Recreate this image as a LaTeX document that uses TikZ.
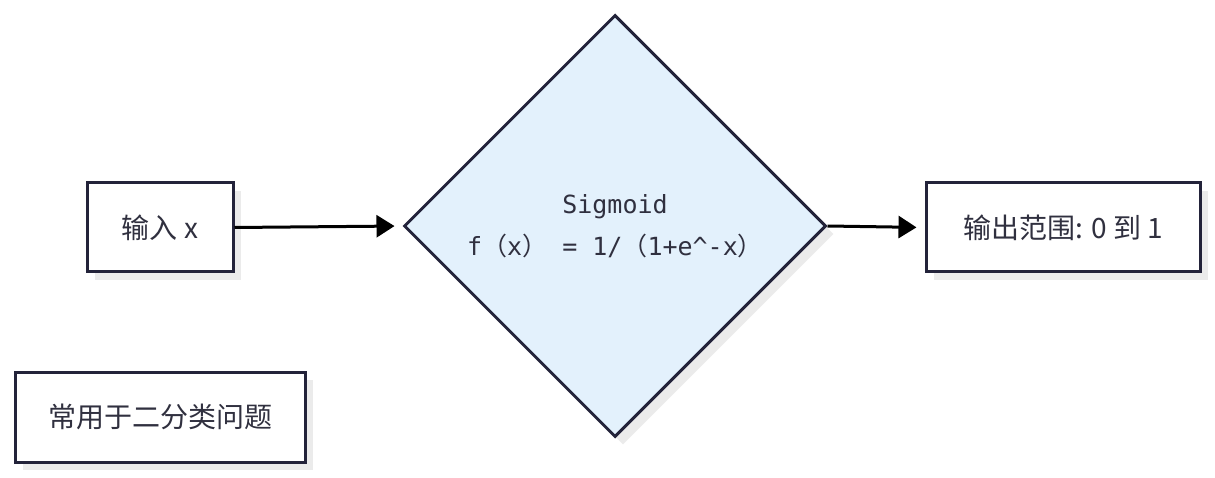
\documentclass[tikz,border=0pt]{standalone}
\usepackage{fontspec}
\setmainfont{Noto Sans CJK SC}
\newfontfamily\monofont{DejaVu Sans Mono}
\newfontfamily\cjkfont{Noto Sans CJK SC}
\usepackage{xcolor}
\usetikzlibrary{arrows.meta, positioning, shapes.geometric, shadows}
\definecolor{rahmen}{HTML}{23233A}
\definecolor{schrift}{HTML}{30303F}
\definecolor{hellblau}{HTML}{E3F1FC}
\definecolor{schatten}{HTML}{EBEBEB}
\tikzset{>=Latex}
\tikzset{
  kasten/.style={draw=rahmen, fill=white, text=schrift, inner sep=0pt,
    minimum height=89pt, font=\fontsize{28}{33}\selectfont,
    general shadow={fill=schatten, shadow xshift=8pt, shadow yshift=-8pt}},
  raute/.style={diamond, draw=rahmen, fill=hellblau, text=schrift, inner sep=0pt,
    minimum width=422pt, minimum height=422pt, align=center,
    font=\fontsize{25}{42}\selectfont\monofont,
    general shadow={fill=schatten, shadow xshift=8pt, shadow yshift=-8pt}},
  pfeil/.style={->, draw=black, shorten >=8pt}
}

\begin{document}
\begin{tikzpicture}[x=1pt, y=-1pt, line width=3pt, >={Triangle[length=18pt, width=22pt]}]
    \useasboundingbox (0,0) rectangle (1215,478);

            % Eingabe links
            \node[kasten, minimum width=146pt] (ein) at (160,227.5) {输入 x};

            % Raute mit der Funktion
            \node[raute] (sig) at (615,226) {Sigmoid\\f{\cjkfont（}x{\cjkfont）} = 1/{\cjkfont（}1+e\textasciicircum-x{\cjkfont）}};

            % Ausgabe rechts
            \node[kasten, minimum width=274pt] (aus) at (1063,227.5) {输出范围: 0 到 1};

            % Hinweis unten links
            \node[kasten, minimum width=290pt, minimum height=90pt] (hinweis) at (160,417) {常用于二分类问题};

            % Pfeile
            \draw[pfeil] (ein.east) -- (sig.west);
            \draw[pfeil] (sig.east) -- (aus.west);

\end{tikzpicture}
\end{document}
